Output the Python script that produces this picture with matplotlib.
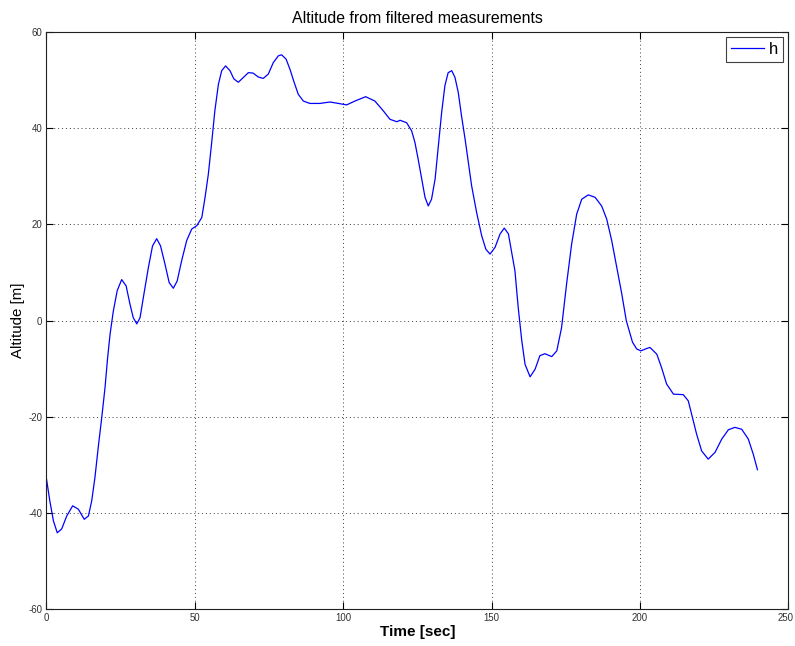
"""
Altitude estimate from filtered measurements, plotted over time.
"""

import matplotlib
matplotlib.use("Agg")
import matplotlib.pyplot as plt
from matplotlib.transforms import ScaledTranslation


# Filtered altitude samples (time in s, altitude in m)
time_s = [
    0.0, 1.2, 2.4, 3.7, 5.2, 6.9, 8.9, 10.8, 12.8, 14.2, 15.3, 16.4, 17.5,
    18.7, 19.8, 20.6, 21.5, 22.6, 23.9, 25.4, 26.9, 28.2, 29.3, 30.5, 31.6,
    32.9, 34.4, 35.8, 37.2, 38.5, 40.0, 41.4, 42.8, 44.1, 45.6, 47.3, 49.0,
    50.7, 52.4, 53.5, 54.6, 55.7, 56.8, 58.0, 59.1, 60.4, 61.9, 63.2,
    64.7, 66.4, 68.1, 69.7, 71.4, 73.1, 74.8, 76.5, 78.2, 79.3, 80.8, 82.1,
    83.5, 84.9, 86.6, 88.8, 92.2, 95.6, 98.4, 101.2, 104.0, 107.6, 110.7,
    113.5, 115.8, 118.1, 119.2, 121.4, 123.1, 124.2, 125.3, 126.5, 127.6,
    128.7, 129.8, 131.0, 132.1, 133.2, 134.3, 135.4, 136.6, 137.7, 138.8,
    139.9, 141.1, 142.2, 143.3, 145.0, 146.7, 148.1, 149.5, 151.2, 152.9,
    154.3, 155.7, 156.8, 157.9, 159.0, 160.2, 161.3, 163.0, 164.7, 166.3,
    168.0, 170.3, 172.0, 173.6, 175.3, 177.0, 178.7, 180.4, 182.6, 184.9,
    187.1, 188.8, 190.5, 192.2, 193.9, 195.4, 197.5, 198.9, 200.3, 202.8,
    203.4, 205.7, 207.3, 209.0, 211.3, 214.6, 216.3, 217.4, 219.1, 220.8,
    223.0, 225.3, 227.6, 229.8, 232.0, 234.3, 236.5, 238.2, 239.6,
]
altitude_m = [
    -32.6, -37.5, -41.6, -44.1, -43.3, -40.6, -38.5, -39.2, -41.3, -40.6,
    -37.5, -32.6, -26.4, -20.1, -13.9, -8.2, -2.8, 2.0, 6.2, 8.5, 7.2, 3.4,
    0.6, -0.7, 0.6, 5.5, 11.0, 15.5, 17.0, 15.5, 11.7, 7.9, 6.7, 8.2, 12.4,
    16.6, 19.0, 19.7, 21.4, 25.6, 30.4, 36.8, 43.6, 49.1, 51.9, 52.9,
    51.9, 50.2, 49.5, 50.5, 51.5, 51.4, 50.6, 50.3, 51.2, 53.6, 55.0, 55.2,
    54.3, 52.2, 49.5, 47.0, 45.6, 45.1, 45.1, 45.4, 45.1, 44.8, 45.6, 46.5,
    45.6, 43.6, 41.8, 41.3, 41.6, 41.1, 39.4, 37.0, 33.5, 29.4, 25.6, 23.8,
    25.2, 29.4, 36.3, 43.2, 48.8, 51.5, 51.9, 50.5, 47.4, 42.5, 37.7, 32.8,
    28.0, 22.4, 17.6, 14.8, 13.8, 15.2, 18.0, 19.2, 18.0, 14.1, 10.3, 2.7,
    -4.2, -9.1, -11.7, -10.1, -7.3, -6.9, -7.5, -6.3, -1.5, 7.6, 15.9, 22.1,
    25.2, 26.1, 25.6, 23.8, 21.1, 16.6, 11.0, 5.5, 0.0, -4.5, -5.9, -6.3,
    -5.7, -5.6, -7.0, -9.8, -13.2, -15.3, -15.4, -16.7, -19.4, -23.6, -27.1,
    -28.8, -27.4, -24.6, -22.7, -22.2, -22.6, -24.6, -27.8, -31.0,
]

x_ticks = [0, 50, 100, 150, 200, 250]
y_ticks = [-60, -40, -20, 0, 20, 40, 60]

plt.rcParams["font.family"] = ["Liberation Sans", "DejaVu Sans"]
plt.rcParams["axes.unicode_minus"] = False

fig = plt.figure(figsize=(7.95, 6.46), dpi=100)
ax = fig.add_axes([0.0582, 0.0568, 0.9334, 0.8941])

ax.plot(time_s, altitude_m, color="#0000ff", linewidth=0.9, label="h")

ax.set_xlim(0, 250)
ax.set_ylim(-60, 60)
ax.set_xticks(x_ticks)
ax.set_yticks(y_ticks)
ax.tick_params(direction="in", top=True, right=True, length=5, width=0.8,
               labelsize=6.9, labelcolor="#303030", pad=3)
for spine in ax.spines.values():
    spine.set_linewidth(0.8)
    spine.set_color("#202020")

# keep the last x tick label inside the canvas
last = ax.get_xticklabels()[-1]
last.set_transform(last.get_transform()
                   + ScaledTranslation(-2 / 72, 0, fig.dpi_scale_trans))

ax.grid(True, linestyle=(0, (1, 3)), color="#404040", linewidth=0.7)

ax.set_title("Altitude from filtered measurements", fontsize=11.4, pad=6)
ax.set_xlabel("Time [sec]", fontsize=11, fontweight="bold")
ax.set_ylabel("Altitude [m]", fontsize=10.8)
ax.xaxis.set_label_coords(0.5, -0.027)
ax.yaxis.set_label_coords(-0.029, 0.5)

leg = ax.legend(loc="upper right", fontsize=12, fancybox=False,
                framealpha=1, edgecolor="#404040", handlelength=2.0,
                borderaxespad=0.3, borderpad=0.3, handletextpad=0.3)
leg.get_frame().set_linewidth(0.8)

fig.savefig("out.png", dpi=100)
